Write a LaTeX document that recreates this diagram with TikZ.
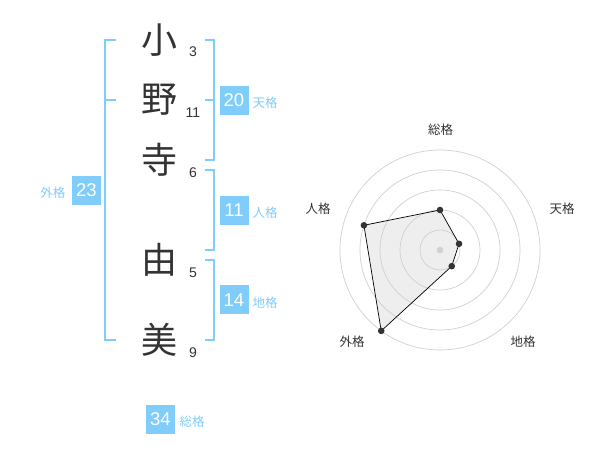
\documentclass[tikz,border=0pt]{standalone}
\usepackage{fontspec}
\setmainfont{Liberation Sans}
\newfontfamily\cjk{Noto Sans CJK JP}
\definecolor{bl}{RGB}{128,204,250}
\definecolor{dk}{RGB}{51,51,51}
\definecolor{ring}{RGB}{208,208,208}
\definecolor{area}{RGB}{238,238,238}
\begin{document}
\begin{tikzpicture}[x=1pt,y=-1pt,
  kanji/.style={inner sep=0pt,text=dk,font=\cjk\fontsize{36}{36}\selectfont},
  num/.style={inner sep=0pt,text=dk,font=\fontsize{14}{14}\selectfont},
  box/.style={inner sep=0pt,minimum size=29pt,fill=bl,text=white,font=\fontsize{18.5}{18.5}\selectfont},
  lab/.style={inner sep=0pt,text=bl,font=\cjk\fontsize{12.5}{12.5}\selectfont},
  brk/.style={draw=bl,line width=1.8pt},
  rlab/.style={inner sep=0pt,text=dk,font=\cjk\fontsize{12.5}{12.5}\selectfont},
  dot/.style={fill=dk}]
\useasboundingbox (0,0) rectangle (600,470);
% brackets
\draw[brk] (116,40) -- (105,40) -- (105,340) -- (116,340);
\draw[brk] (105,100) -- (116,100);
\draw[brk] (205,40) -- (214,40) -- (214,160) -- (205,160);
\draw[brk] (205,100) -- (214,100);
\draw[brk] (205,170) -- (214,170) -- (214,250) -- (205,250);
\draw[brk] (205,260) -- (214,260) -- (214,340) -- (205,340);
% kanji
\node[kanji] (k1) at (159,40) {小};
\node[kanji] (k2) at (159,100) {野};
\node[kanji] (k3) at (159,160) {寺};
\node[kanji] (k4) at (159,260) {由};
\node[kanji] (k5) at (159,340) {美};
% stroke counts
\node[num] (n1) at (193,52) {3};
\node[num] (n2) at (193,112.5) {11};
\node[num] (n3) at (193,173) {6};
\node[num] (n4) at (193,272.5) {5};
\node[num] (n5) at (193,352.5) {9};
% boxes
\node[box] (b1) at (234,100.5) {20};
\node[lab,anchor=west] (l1) at (252.5,103) {天格};
\node[box] (b2) at (234,210.5) {11};
\node[lab,anchor=west] (l2) at (252.5,213) {人格};
\node[box] (b3) at (234,300) {14};
\node[lab,anchor=west] (l3) at (252.5,302.5) {地格};
\node[box] (b4) at (86.5,190.5) {23};
\node[lab,anchor=east] (l4) at (65.5,193) {外格};
\node[box] (b5) at (160.5,419) {34};
\node[lab,anchor=west] (l5) at (179.5,421.5) {総格};
% radar
\begin{scope}[shift={(440,250)},yscale=-1]
  \coordinate (c) at (0,0);
  \coordinate (p1) at (90:40);
  \coordinate (p2) at (18:20);
  \coordinate (p3) at (-54:20);
  \coordinate (p4) at (-126:100);
  \coordinate (p5) at (162:80);
  \fill[area] (p1) -- (p2) -- (p3) -- (p4) -- (p5) -- cycle;
  \foreach \r in {20,40,60,80,100} \draw[ring,line width=0.7pt] (c) circle[radius=\r];
  \draw[black,line width=0.7pt] (p1) -- (p2) -- (p3) -- (p4) -- (p5) -- cycle;
  \foreach \p in {p1,p2,p3,p4,p5} \fill[dot] (\p) circle[radius=3.3];
  \fill[ring] (c) circle[radius=3.3];
\end{scope}
\node[rlab] (r1) at (440.5,130) {総格};
\node[rlab] (r2) at (562,208.5) {天格};
\node[rlab] (r3) at (318,208.5) {人格};
\node[rlab] (r4) at (352,342) {外格};
\node[rlab] (r5) at (523,342) {地格};
\end{tikzpicture}
\end{document}
